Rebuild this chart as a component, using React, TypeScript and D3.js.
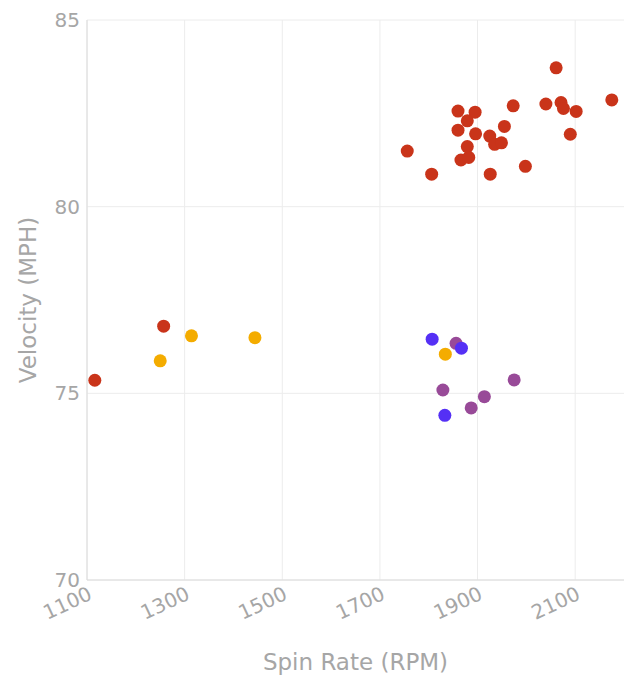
import * as d3 from 'd3'

// Spin rate (RPM) and velocity (MPH) per pitch, grouped by pitch type
const redSpin = [1756, 1806, 1860, 1895, 1879, 1860, 1896, 1879, 1866, 1882, 1925, 1935, 1949, 1955, 1973, 1926, 1998, 2040, 2061, 2071, 2076, 2102, 2090, 2175, 1257, 1116]
const redVelo = [81.49, 80.87, 82.56, 82.53, 82.3, 82.05, 81.95, 81.61, 81.25, 81.32, 81.89, 81.67, 81.71, 82.15, 82.7, 80.87, 81.08, 82.75, 83.72, 82.79, 82.63, 82.55, 81.94, 82.86, 76.8, 75.35]

const orangeSpin = [1834, 1314, 1444, 1250]
const orangeVelo = [76.05, 76.54, 76.49, 75.87]

const purpleSpin = [1856, 1829, 1914, 1887, 1975]
const purpleVelo = [76.34, 75.09, 74.91, 74.61, 75.36]

const blueSpin = [1807, 1867, 1833]
const blueVelo = [76.45, 76.21, 74.41]

const xTicks = [1100, 1300, 1500, 1700, 1900, 2100]
const yTicks = [70, 75, 80, 85]

const series = [
  { name: 'red', color: '#c9341a', spin: redSpin, velo: redVelo },
  { name: 'orange', color: '#f4ac00', spin: orangeSpin, velo: orangeVelo },
  { name: 'purple', color: '#984a98', spin: purpleSpin, velo: purpleVelo },
  { name: 'blue', color: '#5530f5', spin: blueSpin, velo: blueVelo },
]

const width = 628
const height = 677
const margin = { top: 20, right: 4, bottom: 97, left: 87 }
const font = "'DejaVu Sans', sans-serif"
const textColor = '#a6a6a6'

export default function App() {
  const x = d3.scaleLinear().domain([1100, 2200]).range([margin.left, width - margin.right])
  const y = d3.scaleLinear().domain([70, 85]).range([height - margin.bottom, margin.top])
  const [x0, x1] = x.range()
  const [y0, y1] = y.range()

  return (
    <svg
      width={width}
      height={height}
      style={{ position: 'absolute', left: 0, top: 0, fontFamily: font }}
    >
      {/* grid */}
      {xTicks.map((t) => (
        <line key={'gx' + t} x1={x(t)} x2={x(t)} y1={y1} y2={y0} stroke="#ececec" />
      ))}
      {yTicks.map((t) => (
        <line key={'gy' + t} x1={x0} x2={x1} y1={y(t)} y2={y(t)} stroke="#ececec" />
      ))}
      {/* axis lines */}
      <line x1={x0} x2={x0} y1={y1} y2={y0} stroke="#dcdcdc" />
      <line x1={x0} x2={x1} y1={y0} y2={y0} stroke="#dcdcdc" />

      {/* y tick labels */}
      {yTicks.map((t) => (
        <text
          key={'ty' + t}
          x={x0 - 7}
          y={y(t)}
          dy="0.35em"
          textAnchor="end"
          fontSize={20}
          fill={textColor}
        >
          {t}
        </text>
      ))}
      {/* x tick labels */}
      {xTicks.map((t) => (
        <text
          key={'tx' + t}
          transform={`translate(${x(t)},${y0 + 5}) rotate(-25)`}
          dy="0.75em"
          textAnchor="end"
          fontSize={20}
          fill={textColor}
        >
          {t}
        </text>
      ))}

      {/* axis titles */}
      <text
        transform={`translate(28,${(y0 + y1) / 2}) rotate(-90)`}
        dy="0.35em"
        textAnchor="middle"
        fontSize={23}
        fill={textColor}
      >
        Velocity (MPH)
      </text>
      <text
        x={(x0 + x1) / 2}
        y={662}
        dy="0.35em"
        textAnchor="middle"
        fontSize={23}
        fill={textColor}
      >
        Spin Rate (RPM)
      </text>

      {/* points */}
      {series.map((s) =>
        s.spin.map((v, i) => (
          <circle key={s.name + i} cx={x(v)} cy={y(s.velo[i])} r={6.5} fill={s.color} />
        ))
      )}
    </svg>
  )
}
